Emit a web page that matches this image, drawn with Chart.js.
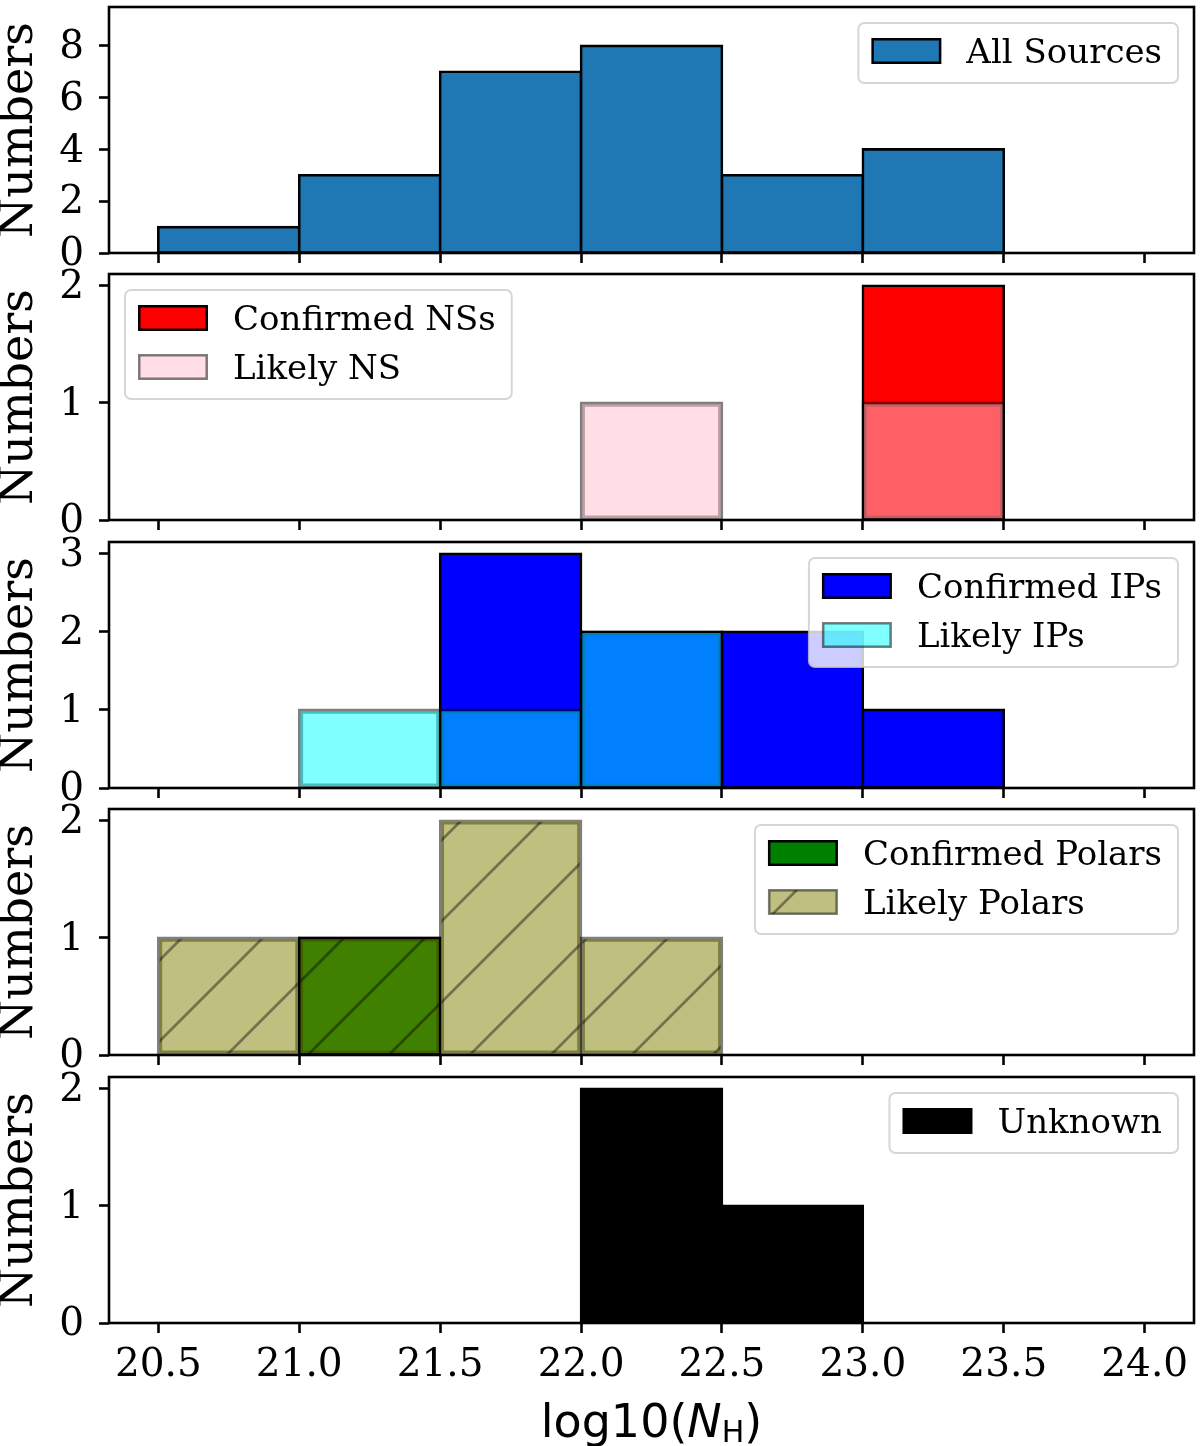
<!DOCTYPE html>
<html><head><meta charset="utf-8">
<script src="https://cdn.jsdelivr.net/npm/chart.js@4.4.1/dist/chart.umd.min.js"></script>
<style>
html,body{margin:0;padding:0;background:#fff;}
#wrap{position:relative;width:1200px;height:1446px;overflow:hidden;background:#fff;}
#wrap canvas{position:absolute;left:0;}
</style>
</head><body><div id="wrap"></div>
<script>
// ---------------- data ----------------
const binEdges = [20.5, 21.0, 21.5, 22.0, 22.5, 23.0, 23.5, 24.0];
const xTickValues = [20.5, 21.0, 21.5, 22.0, 22.5, 23.0, 23.5, 24.0];
const xTickLabels = ['20.5', '21.0', '21.5', '22.0', '22.5', '23.0', '23.5', '24.0'];
const xRange = [20.325, 24.175];

const allSources      = [1, 3, 7, 8, 3, 4, 0];
const confirmedNSs    = [0, 0, 0, 0, 0, 2, 0];
const likelyNS        = [0, 0, 0, 1, 0, 1, 0];
const confirmedIPs    = [0, 0, 3, 2, 2, 1, 0];
const likelyIPs       = [0, 1, 1, 2, 0, 0, 0];
const confirmedPolars = [0, 1, 0, 0, 0, 0, 0];
const likelyPolars    = [1, 1, 2, 1, 0, 0, 0];
const unknownSources  = [0, 0, 0, 2, 1, 0, 0];

const yTicksAll = [0, 2, 4, 6, 8];
const yTicksNS = [0, 1, 2];
const yTicksIP = [0, 1, 2, 3];
const yTicksPolar = [0, 1, 2];
const yTicksUnknown = [0, 1, 2];
const yMaxes = [9.5, 2.1, 3.15, 2.1, 2.1];

const yTitle = 'Numbers';

// ---------------- layout ----------------
const AX_LEFT = 109, AX_RIGHT = 1194, AX_H = 246, PAD_TOP = 7;
const axTops = [7, 274, 542, 809, 1077];
const FONT = '"DejaVu Serif"';

Chart.defaults.color = '#000';
Chart.defaults.font.family = FONT;

function hatchPattern(ctx, canvasTop) {
  const S = 81;
  const c = (((66.8 - canvasTop) % S) + S) % S;
  const t = document.createElement('canvas');
  t.width = S; t.height = S;
  const g = t.getContext('2d');
  g.fillStyle = 'rgba(128,128,0,0.5)';
  g.fillRect(0, 0, S, S);
  g.strokeStyle = 'rgba(0,0,0,0.4)';
  g.lineWidth = 2.8;
  g.beginPath();
  for (const s of [c - S, c, c + S]) { g.moveTo(s + 12, -12); g.lineTo(s - S - 12, S + 12); }
  g.stroke();
  return ctx.createPattern(t, 'repeat');
}

function binned(arr) {
  return arr.map((v, i) => ({ x: (binEdges[i] + binEdges[i + 1]) / 2, y: v === 0 ? null : v }));
}

function roundRectPath(ctx, x, y, w, h, r) {
  ctx.beginPath();
  ctx.moveTo(x + r, y);
  ctx.lineTo(x + w - r, y); ctx.arcTo(x + w, y, x + w, y + r, r);
  ctx.lineTo(x + w, y + h - r); ctx.arcTo(x + w, y + h, x + w - r, y + h, r);
  ctx.lineTo(x + r, y + h); ctx.arcTo(x, y + h, x, y + h - r, r);
  ctx.lineTo(x, y + r); ctx.arcTo(x, y, x + r, y, r);
  ctx.closePath();
}

const framePlugin = {
  id: 'frame',
  afterDatasetsDraw(chart) {
    const { ctx, chartArea: a } = chart;
    ctx.save();
    ctx.lineWidth = 2.6; ctx.strokeStyle = '#000';
    ctx.strokeRect(a.left, a.top, a.right - a.left, a.bottom - a.top);
    ctx.restore();
  }
};

const boxLegend = {
  id: 'boxLegend',
  afterDraw(chart, args, opts) {
    if (!opts || !opts.show) return;
    const ctx = chart.ctx, a = chart.chartArea;
    const items = chart.data.datasets;
    const fs = 34;
    ctx.save();
    ctx.font = fs + 'px ' + FONT;
    const tw = Math.max(...items.map(d => ctx.measureText(d.label).width));
    const padL = 13, hw = 70, hh = 26, gap = 25, padR = 16, rowH = 49, padT = 28, padB = 32;
    const bw = padL + hw + gap + tw + padR;
    const bh = padT + (items.length - 1) * rowH + padB;
    const bx = opts.side === 'left' ? a.left + 16 : a.right - 16 - bw;
    const by = a.top + 16;
    roundRectPath(ctx, bx, by, bw, bh, 6);
    ctx.fillStyle = 'rgba(255,255,255,0.8)'; ctx.fill();
    ctx.lineWidth = 2; ctx.strokeStyle = 'rgba(204,204,204,0.8)'; ctx.stroke();
    items.forEach((d, i) => {
      const cy = by + padT + i * rowH;
      const hx = bx + padL + 1.25, hy = cy - hh / 2 + 1.25;
      ctx.fillStyle = d.backgroundColor;
      ctx.fillRect(hx, hy, hw - 2.5, hh - 2.5);
      ctx.lineWidth = 2.5; ctx.strokeStyle = d.borderColor;
      ctx.strokeRect(hx, hy, hw - 2.5, hh - 2.5);
      ctx.fillStyle = '#000'; ctx.textAlign = 'left'; ctx.textBaseline = 'alphabetic';
      ctx.fillText(d.label, bx + padL + hw + gap, cy + 0.729 * fs / 2);
    });
    ctx.restore();
  }
};

const xTitlePlugin = {
  id: 'xTitle',
  afterDraw(chart, args, opts) {
    if (!opts || !opts.show) return;
    const ctx = chart.ctx, a = chart.chartArea;
    const parts = [
      { t: 'log10(', f: '46px "DejaVu Sans"', dy: 0 },
      { t: 'N', f: 'italic 46px "DejaVu Sans"', dy: 0 },
      { t: 'H', f: '30px "DejaVu Sans"', dy: 5 },
      { t: ')', f: '46px "DejaVu Sans"', dy: 0 }
    ];
    ctx.save();
    let total = 0;
    parts.forEach(p => { ctx.font = p.f; p.w = ctx.measureText(p.t).width; total += p.w; });
    let x = (a.left + a.right) / 2 - total / 2;
    const base = a.bottom + 114;
    ctx.fillStyle = '#000'; ctx.textAlign = 'left'; ctx.textBaseline = 'alphabetic';
    parts.forEach(p => { ctx.font = p.f; ctx.fillText(p.t, x, base + p.dy); x += p.w; });
    ctx.restore();
  }
};

function zeroPad(scale) {
  scale.paddingTop = 0; scale.paddingBottom = 0;
  scale.paddingLeft = 0; scale.paddingRight = 0;
}

const wrap = document.getElementById('wrap');

function makePanel(idx, seriesDefs, yTicks, legendSide, isLast) {
  const canvas = document.createElement('canvas');
  const cTop = axTops[idx] - PAD_TOP;
  const cH = isLast ? 1446 - cTop : PAD_TOP + AX_H + 14;
  canvas.width = 1200; canvas.height = cH;
  canvas.style.top = cTop + 'px';
  canvas.style.width = '1200px'; canvas.style.height = cH + 'px';
  wrap.appendChild(canvas);
  const ctx = canvas.getContext('2d');

  const datasets = seriesDefs.map(s => ({
    label: s.label,
    data: binned(s.values),
    backgroundColor: s.hatch ? hatchPattern(ctx, cTop) : s.bg,
    borderColor: s.border,
    borderWidth: 2.6,
    borderSkipped: false,
    inflateAmount: 1.3,
    grouped: false,
    barPercentage: 1,
    categoryPercentage: 1,
    order: s.order
  }));

  return new Chart(ctx, {
    type: 'bar',
    data: { datasets },
    options: {
      responsive: false,
      maintainAspectRatio: false,
      devicePixelRatio: 1,
      animation: false,
      events: [],
      layout: { padding: { top: PAD_TOP, right: 1200 - AX_RIGHT, left: 0, bottom: 0 } },
      plugins: {
        legend: { display: false },
        tooltip: { enabled: false },
        boxLegend: { show: true, side: legendSide },
        xTitle: { show: isLast }
      },
      scales: {
        x: {
          type: 'linear',
          min: xRange[0], max: xRange[1],
          offset: false,
          grid: { display: true, drawOnChartArea: false, drawTicks: true, tickLength: 10, tickWidth: 2.6, tickColor: '#000', offset: false },
          border: { display: false },
          afterBuildTicks: (scale) => { scale.ticks = xTickValues.map(v => ({ value: v })); },
          afterFit: (scale) => { scale.height = cH - PAD_TOP - AX_H; zeroPad(scale); },
          ticks: {
            display: isLast,
            autoSkip: false, maxRotation: 0, minRotation: 0,
            padding: 9,
            font: { family: FONT, size: 39 },
            color: '#000',
            callback: (v, i) => xTickLabels[i]
          }
        },
        y: {
          type: 'linear',
          min: 0, max: yMaxes[idx],
          grid: { display: true, drawOnChartArea: false, drawTicks: true, tickLength: 10, tickWidth: 2.6, tickColor: '#000' },
          border: { display: false },
          afterBuildTicks: (scale) => { scale.ticks = yTicks.map(v => ({ value: v })); },
          afterFit: (scale) => { scale.width = AX_LEFT; zeroPad(scale); },
          ticks: {
            padding: 15,
            labelOffset: 2,
            font: { family: FONT, size: 39 },
            color: '#000',
            callback: (v) => String(v)
          },
          title: {
            display: true, text: yTitle, color: '#000',
            font: { family: FONT, size: 46, lineHeight: 0.87 },
            padding: 0
          }
        }
      }
    },
    plugins: [framePlugin, boxLegend, xTitlePlugin]
  });
}

const EDGE_LIKELY = 'rgba(0,0,0,0.5)';

makePanel(0, [
  { label: 'All Sources', values: allSources, bg: '#1f77b4', border: '#000', order: 0 }
], yTicksAll, 'right', false);

makePanel(1, [
  { label: 'Confirmed NSs', values: confirmedNSs, bg: '#ff0000', border: '#000', order: 1 },
  { label: 'Likely NS', values: likelyNS, bg: 'rgba(255,192,203,0.5)', border: EDGE_LIKELY, order: 0 }
], yTicksNS, 'left', false);

makePanel(2, [
  { label: 'Confirmed IPs', values: confirmedIPs, bg: '#0000ff', border: '#000', order: 1 },
  { label: 'Likely IPs', values: likelyIPs, bg: 'rgba(0,255,255,0.5)', border: EDGE_LIKELY, order: 0 }
], yTicksIP, 'right', false);

makePanel(3, [
  { label: 'Confirmed Polars', values: confirmedPolars, bg: '#008000', border: '#000', order: 1 },
  { label: 'Likely Polars', values: likelyPolars, hatch: true, border: EDGE_LIKELY, order: 0 }
], yTicksPolar, 'right', false);

makePanel(4, [
  { label: 'Unknown', values: unknownSources, bg: '#000000', border: '#000', order: 0 }
], yTicksUnknown, 'right', true);
</script>
</body></html>
